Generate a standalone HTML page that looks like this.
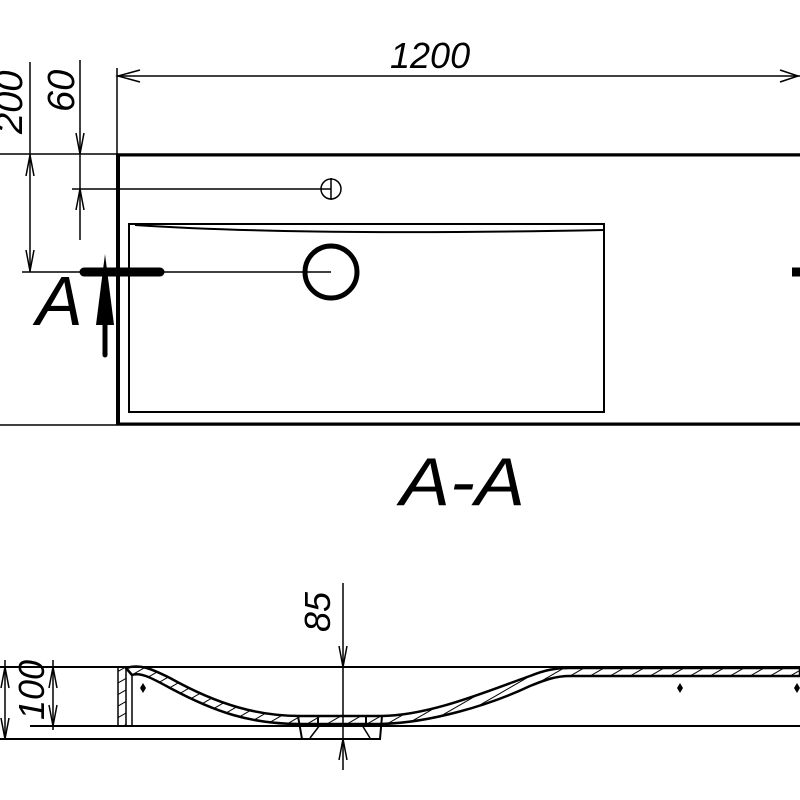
<!DOCTYPE html>
<html><head><meta charset="utf-8"><style>html,body{margin:0;padding:0;background:#fff}svg{display:block}</style></head>
<body>
<svg width="800" height="800" viewBox="0 0 800 800" xmlns="http://www.w3.org/2000/svg" font-family="Liberation Sans, sans-serif" font-style="italic">
<defs>
<pattern id="h" width="10" height="10" patternUnits="userSpaceOnUse" patternTransform="rotate(60)"><line x1="0" y1="0" x2="0" y2="10" stroke="#000" stroke-width="2"/></pattern>
</defs>
<g stroke="#000" fill="none">
<line x1="117" y1="76" x2="800" y2="76" stroke-width="1.5"/>
<polyline points="140,70 118,76 140,82" stroke-width="1.5"/>
<polyline points="780,70 798,76 780,82" stroke-width="1.5"/>
<line x1="117" y1="68" x2="117" y2="154" stroke-width="1.5"/>
<line x1="0" y1="154" x2="800" y2="154" stroke-width="1.5"/>
<line x1="117" y1="155" x2="800" y2="155" stroke-width="3"/>
<line x1="118" y1="154" x2="118" y2="425" stroke-width="4"/>
<line x1="0" y1="425" x2="800" y2="425" stroke-width="1.5"/>
<line x1="118" y1="424" x2="800" y2="424" stroke-width="3"/>
<rect x="129" y="224" width="475" height="188" stroke-width="2"/>
<path d="M135,225 Q300,236 604,230" stroke-width="2"/>
<line x1="72" y1="189" x2="331" y2="189" stroke-width="1.5"/>
<circle cx="331" cy="189" r="10" stroke-width="1.5"/>
<line x1="331" y1="178" x2="331" y2="200" stroke-width="1.5"/>
<line x1="22" y1="272" x2="331" y2="272" stroke-width="1.5"/>
<circle cx="331" cy="272" r="26" stroke-width="5"/>
<line x1="30" y1="62" x2="30" y2="272" stroke-width="1.5"/>
<polyline points="26,176 30,155 34,176" stroke-width="1.5"/>
<polyline points="26,250 30,271 34,250" stroke-width="1.5"/>
<line x1="80" y1="60" x2="80" y2="240" stroke-width="1.5"/>
<polyline points="76,133 80,154 84,133" stroke-width="1.5"/>
<polyline points="76,210 80,189 84,210" stroke-width="1.5"/>
<line x1="84" y1="272" x2="160" y2="272" stroke-width="9" stroke-linecap="round"/>
<line x1="105" y1="290" x2="105" y2="355" stroke-width="5" stroke-linecap="round"/>
<line x1="792" y1="272" x2="800" y2="272" stroke-width="9"/>
</g>
<polygon points="105,254 96,325 114,325" fill="#000"/>
<text x="36" y="325" font-size="70">A</text>
<text x="22" y="134" font-size="38" transform="rotate(-90 22 134)">200</text>
<text x="74" y="112" font-size="38" transform="rotate(-90 74 112)">60</text>
<text x="390" y="68" font-size="36">1200</text>
<text x="400" y="505" font-size="68" textLength="125" lengthAdjust="spacingAndGlyphs">A-A</text>

<g stroke="#000" fill="none">
<line x1="0" y1="667" x2="800" y2="667" stroke-width="2"/>
<line x1="30" y1="726" x2="800" y2="726" stroke-width="2"/>
<line x1="0" y1="739" x2="240" y2="739" stroke-width="2"/>
<line x1="240" y1="739" x2="380" y2="739" stroke-width="2"/>
<rect x="118" y="667" width="8" height="59" stroke-width="1.5" fill="url(#h)"/>
<line x1="132" y1="675" x2="132" y2="726" stroke-width="1.5"/>
<path d="M126,668 C140,664 150,668 170,678 C220,706 260,716 300,716 L380,716 C430,716 490,690 530,676 C545,670 555,668 570,668 L800,668 L800,676 L570,676 C555,676 545,680 530,686 C490,705 430,723 380,724 L300,724 C250,724 215,712 170,688 C150,677 140,672 132,675 Z" stroke-width="2.5" fill="url(#h)"/>
<path d="M298,716 L302,739 L380,739 L382,716" stroke-width="2"/>
<rect x="318" y="716" width="48" height="9" stroke-width="2"/>
<line x1="310" y1="738" x2="320" y2="725" stroke-width="1.5"/>
<line x1="370" y1="738" x2="362" y2="725" stroke-width="1.5"/>
<line x1="343" y1="583" x2="343" y2="770" stroke-width="1.5"/>
<polyline points="339,646 343,667 347,646" stroke-width="1.5"/>
<polyline points="339,760 343,739 347,760" stroke-width="1.5"/>
<line x1="5" y1="660" x2="5" y2="740" stroke-width="1.5"/>
<polyline points="1,688 5,667 9,688" stroke-width="1.5"/>
<polyline points="1,718 5,739 9,718" stroke-width="1.5"/>
<line x1="53" y1="660" x2="53" y2="730" stroke-width="1.5"/>
<polyline points="49,688 53,667 57,688" stroke-width="1.5"/>
<polyline points="49,705 53,726 57,705" stroke-width="1.5"/>
</g>
<g fill="#000">
<polygon points="143,683 146,688 143,693 140,688"/>
<polygon points="680,683 683,688 680,693 677,688"/>
<polygon points="797,683 800,688 797,693 794,688"/>
</g>
<text x="330" y="632" font-size="36" transform="rotate(-90 330 632)">85</text>
<text x="44" y="720" font-size="36" transform="rotate(-90 44 720)">100</text>
</svg>
</body></html>
